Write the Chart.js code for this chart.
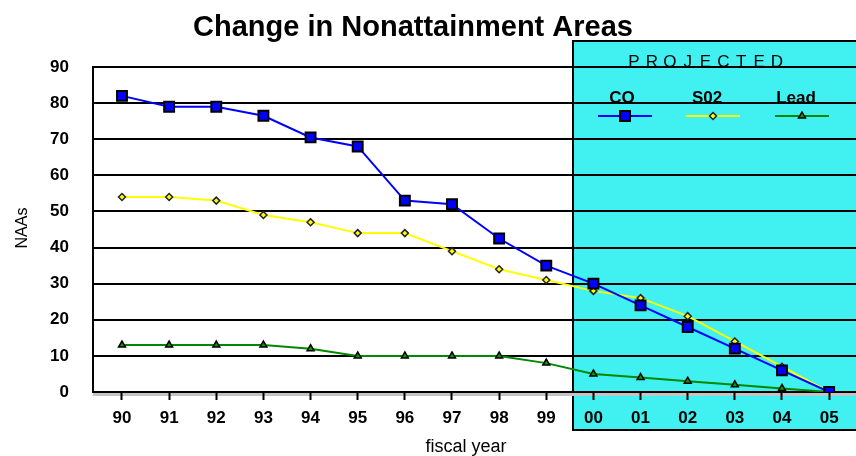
<!DOCTYPE html>
<html>
<head>
<meta charset="utf-8">
<script src="https://cdn.jsdelivr.net/npm/chart.js@4/dist/chart.umd.min.js"></script>
<style>
  html, body { margin: 0; padding: 0; background: #ffffff; }
  #wrap { width: 856px; height: 456px; }
</style>
</head>
<body>
<div id="wrap"><canvas id="c" width="856" height="456"></canvas></div>
<script>
// Fiscal years (two-digit labels)
const years = ['90','91','92','93','94','95','96','97','98','99','00','01','02','03','04','05'];
// Nonattainment areas by pollutant
const coValues   = [82, 79, 79, 76.5, 70.5, 68, 53, 52, 42.5, 35, 30, 24, 18, 12, 6, 0];
const so2Values  = [54, 54, 53, 49, 47, 44, 44, 39, 34, 31, 28, 26, 21, 14, 7, 0];
const leadValues = [13, 13, 13, 13, 12, 10, 10, 10, 10, 8, 5, 4, 3, 2, 1, 0];
const yTicks = [0, 10, 20, 30, 40, 50, 60, 70, 80, 90];
// Index (between '99' and '00') where projections begin
const projectedFrom = 9.57;

const FONT = '"Liberation Sans", Arial, Helvetica, sans-serif';
const toPoints = vals => vals.map((v, i) => ({ x: i, y: v }));

function drawMarker(ctx, style, r, x, y) {
  ctx.beginPath();
  if (style === 'rect') {
    const s = Math.SQRT1_2 * r;
    ctx.rect(x - s, y - s, 2 * s, 2 * s);
  } else if (style === 'rectRot') {
    const s = r;
    ctx.moveTo(x, y - s); ctx.lineTo(x + s, y); ctx.lineTo(x, y + s); ctx.lineTo(x - s, y); ctx.closePath();
  } else {
    ctx.moveTo(x, y - r);
    ctx.lineTo(x + r * 0.866, y + r / 2);
    ctx.lineTo(x - r * 0.866, y + r / 2);
    ctx.closePath();
  }
  ctx.fill();
  ctx.stroke();
}

const projectedBand = {
  id: 'projectedBand',
  beforeDraw(chart) {
    const { ctx, chartArea, scales } = chart;
    const left = Math.round(scales.x.getPixelForValue(projectedFrom));
    const top = chartArea.top - 26;
    const bottom = chartArea.bottom + 38;
    ctx.save();
    ctx.fillStyle = '#41F0F0';
    ctx.fillRect(left, top, chart.width - left + 5, bottom - top);
    ctx.strokeStyle = '#000';
    ctx.lineWidth = 2;
    ctx.strokeRect(left, top, chart.width - left + 5, bottom - top);
    // soft grey shadow below the category axis
    ctx.fillStyle = '#c4c4c4';
    ctx.fillRect(chartArea.left, chartArea.bottom + 1, chart.width - chartArea.left, 3);
    ctx.restore();
  },
  afterDraw(chart) {
    const { ctx } = chart;
    ctx.save();
    // Title
    ctx.fillStyle = '#000';
    ctx.font = 'bold 29px ' + FONT;
    ctx.textAlign = 'center';
    ctx.textBaseline = 'alphabetic';
    ctx.fillText('Change in Nonattainment Areas', 413, 36);
    // Axis titles
    ctx.font = '18px ' + FONT;
    ctx.fillText('fiscal year', 466, 452);
    ctx.save();
    ctx.translate(27, 228);
    ctx.rotate(-Math.PI / 2);
    ctx.font = '16px ' + FONT;
    ctx.fillText('NAAs', 0, 0);
    ctx.restore();
    // PROJECTED caption, letter-spaced
    const word = 'PROJECTED';
    ctx.font = '17px ' + FONT;
    const x0 = 634, x1 = 777;
    for (let i = 0; i < word.length; i++) {
      const cx = x0 + (x1 - x0) * i / (word.length - 1);
      ctx.fillText(word[i], cx, 67);
    }
    // Legend: label above a short line sample carrying the series marker
    const entries = [
      { ds: 0, label: 'CO', cx: 622, lx: 625 },
      { ds: 1, label: 'S02', cx: 707, lx: 713 },
      { ds: 2, label: 'Lead', cx: 796, lx: 802 }
    ];
    ctx.font = 'bold 17px ' + FONT;
    entries.forEach(e => {
      const d = chart.data.datasets[e.ds];
      ctx.fillStyle = '#000';
      ctx.textAlign = 'center';
      ctx.fillText(e.label, e.cx, 103);
      ctx.strokeStyle = d.borderColor;
      ctx.lineWidth = 2;
      ctx.beginPath();
      ctx.moveTo(e.lx - 27, 116);
      ctx.lineTo(e.lx + 27, 116);
      ctx.stroke();
      ctx.fillStyle = d.pointBackgroundColor;
      ctx.strokeStyle = d.pointBorderColor;
      ctx.lineWidth = d.pointBorderWidth;
      drawMarker(ctx, d.pointStyle, d.pointRadius, e.lx, 116);
    });
    ctx.restore();
  }
};

new Chart(document.getElementById('c'), {
  type: 'line',
  data: {
    datasets: [
      {
        label: 'CO', data: toPoints(coValues),
        borderColor: '#0000FF', borderWidth: 2,
        pointStyle: 'rect', pointRadius: 7, pointBorderWidth: 2,
        pointBackgroundColor: '#0000FF', pointBorderColor: '#000'
      },
      {
        label: 'S02', data: toPoints(so2Values),
        borderColor: '#FFFF00', borderWidth: 2,
        pointStyle: 'rectRot', pointRadius: 3.5, pointBorderWidth: 1.5,
        pointBackgroundColor: '#FFFF00', pointBorderColor: '#222'
      },
      {
        label: 'Lead', data: toPoints(leadValues),
        borderColor: '#008800', borderWidth: 2,
        pointStyle: 'triangle', pointRadius: 4, pointBorderWidth: 1.5,
        pointBackgroundColor: '#00A000', pointBorderColor: '#000'
      }
    ]
  },
  options: {
    responsive: false,
    animation: false,
    layout: { autoPadding: false, padding: { top: 67, right: 0, bottom: 0, left: 0 } },
    elements: { line: { tension: 0 } },
    plugins: { legend: { display: false }, title: { display: false }, tooltip: { enabled: false } },
    scales: {
      x: {
        type: 'linear',
        min: -0.615, max: 15.57,
        afterFit(scale) { scale.height = 64; scale.paddingLeft = 0; scale.paddingRight = 0; },
        afterBuildTicks(scale) { scale.ticks = years.map((_, i) => ({ value: i })); },
        ticks: {
          autoSkip: false, maxRotation: 0, padding: 8,
          color: '#000', font: { family: FONT, size: 17, weight: 'bold' },
          callback: v => years[v]
        },
        grid: { drawOnChartArea: false, drawTicks: true, tickLength: 8, tickColor: '#000', tickWidth: 2 },
        border: { display: true, color: '#000', width: 2 }
      },
      y: {
        min: 0, max: 90,
        afterFit(scale) { scale.width = 93; scale.paddingTop = 0; scale.paddingBottom = 0; },
        afterBuildTicks(scale) { scale.ticks = yTicks.map(v => ({ value: v })); },
        ticks: { padding: 24, color: '#000', font: { family: FONT, size: 17, weight: 'bold' } },
        grid: { color: '#000', lineWidth: 2, drawTicks: false },
        border: { display: true, color: '#000', width: 2 }
      }
    }
  },
  plugins: [projectedBand]
});
</script>
</body>
</html>
